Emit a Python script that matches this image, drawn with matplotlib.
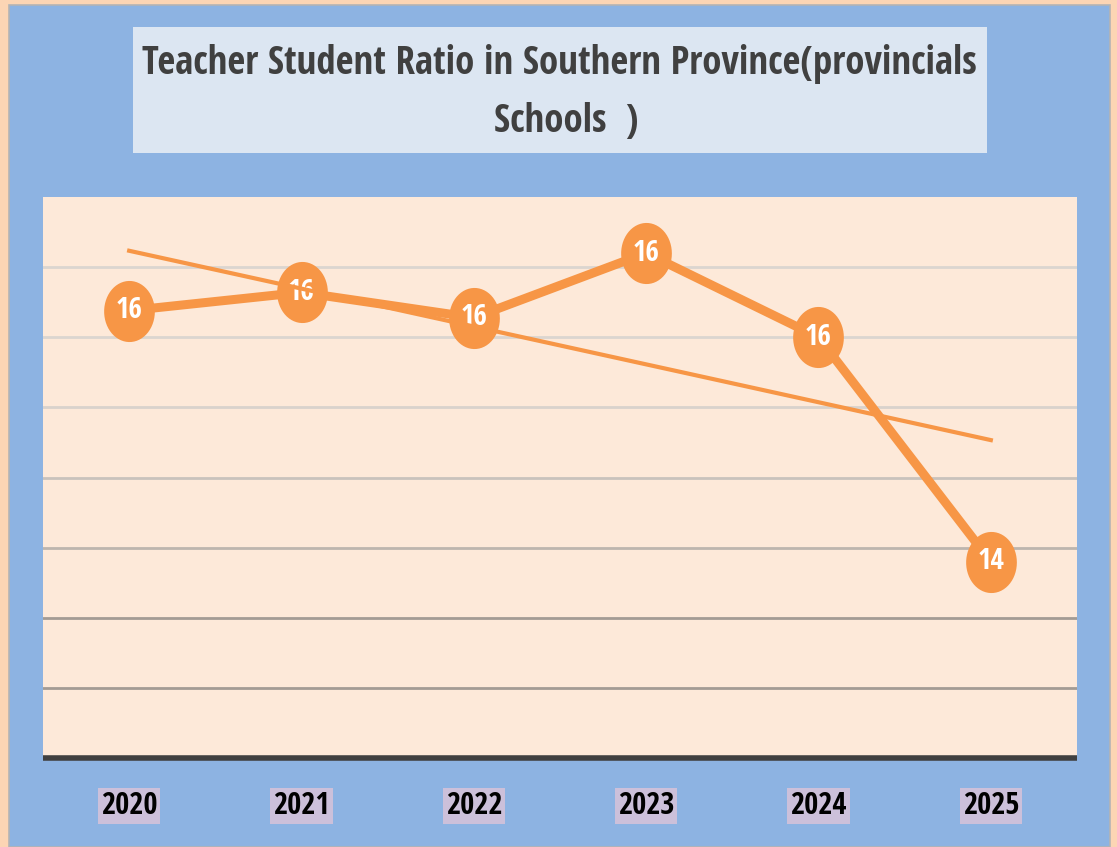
import numpy as np
import matplotlib
matplotlib.use("Agg")
import matplotlib.pyplot as plt
from matplotlib.patches import Rectangle

# data (axis values are hidden, labels show rounded numbers)
years = ["2020", "2021", "2022", "2023", "2024", "2025"]
ratio = [15.79, 15.92, 15.74, 16.2, 15.6, 14.0]

ORANGE = "#f79646"
FONT = ["Open Sans Condensed", "Carlito", "DejaVu Sans"]

fig = plt.figure(figsize=(11.17, 8.47), dpi=100)
fig.patch.set_facecolor("#fcd5b4")

# blue chart area with thin grey edge
fig.patches.append(Rectangle((9 / 1117, 0), 1101 / 1117, 842 / 847, transform=fig.transFigure,
                             facecolor="#8db3e2", edgecolor="#b4b4b4", linewidth=1.2, zorder=-2))
# title box
fig.patches.append(Rectangle((133 / 1117, 1 - 153 / 847), 854 / 1117, 126 / 847, transform=fig.transFigure,
                             facecolor="#dce6f2", edgecolor="none", zorder=-1))
title_kw = dict(ha="center", va="center", fontsize=28, fontweight="bold", color="#404040",
                family=FONT, fontstretch="condensed")
fig.text(559 / 1117, 1 - 64 / 847, "Teacher Student Ratio in Southern Province(provincials", **title_kw)
fig.text(566 / 1117, 1 - 122 / 847, "Schools  )", **title_kw)

ax = fig.add_axes([43 / 1117, 89 / 847, 1034 / 1117, 561 / 847])
ax.set_zorder(2)
ax.set_facecolor("#fde9d9")

x = np.arange(len(years))
ax.set_xlim(-0.5, len(years) - 0.5)
ax.set_ylim(12.6, 16.6)

# gridlines, lower ones a little darker like the original
grid_y = np.arange(13.1, 16.2, 0.5)
grid_c = ["#a39b94", "#a39b94", "#bdb5ae", "#c9c2bc", "#d9d2cc", "#dbd5d0", "#dbd5d0"]
for gy, gc in zip(grid_y, grid_c):
    ax.axhline(gy, color=gc, linewidth=2, zorder=1)

# ellipse shaped marker (picture is stretched vertically)
t = np.linspace(0, 2 * np.pi, 60)
ellipse = np.column_stack([0.83 * np.cos(t), np.sin(t)])

ax.plot(x, ratio, color=ORANGE, linewidth=6.5, solid_capstyle="round", zorder=3,
        marker=ellipse, markersize=44, markeredgewidth=0)
for xi, v in zip(x, ratio):
    ax.text(xi, v, f"{v:.0f}", ha="center", va="center", color="white",
            fontsize=21, fontweight="bold", family=FONT, fontstretch="condensed", zorder=4)

# linear trend line
k, b = np.polyfit(x, ratio, 1)
ax.plot(x[[0, -1]], k * x[[0, -1]] + b, color=ORANGE, linewidth=3, zorder=5)

for s in ["left", "right", "top"]:
    ax.spines[s].set_visible(False)
ax.spines["bottom"].set_color("#404040")
ax.spines["bottom"].set_linewidth(4)
ax.spines["bottom"].set_capstyle("butt")
ax.spines["bottom"].set_zorder(6)

ax.set_yticks([])
ax.set_xticks(x)
ax.set_xticklabels(years, fontsize=22, fontweight="bold", family=FONT, fontstretch="condensed", color="black")
ax.tick_params(axis="x", length=0, pad=24)
for lbl in ax.get_xticklabels():
    lbl.set_bbox(dict(facecolor="#ccc0da", edgecolor="none", boxstyle="square,pad=0.1"))

fig.savefig("out.png", dpi=100, facecolor=fig.get_facecolor())
